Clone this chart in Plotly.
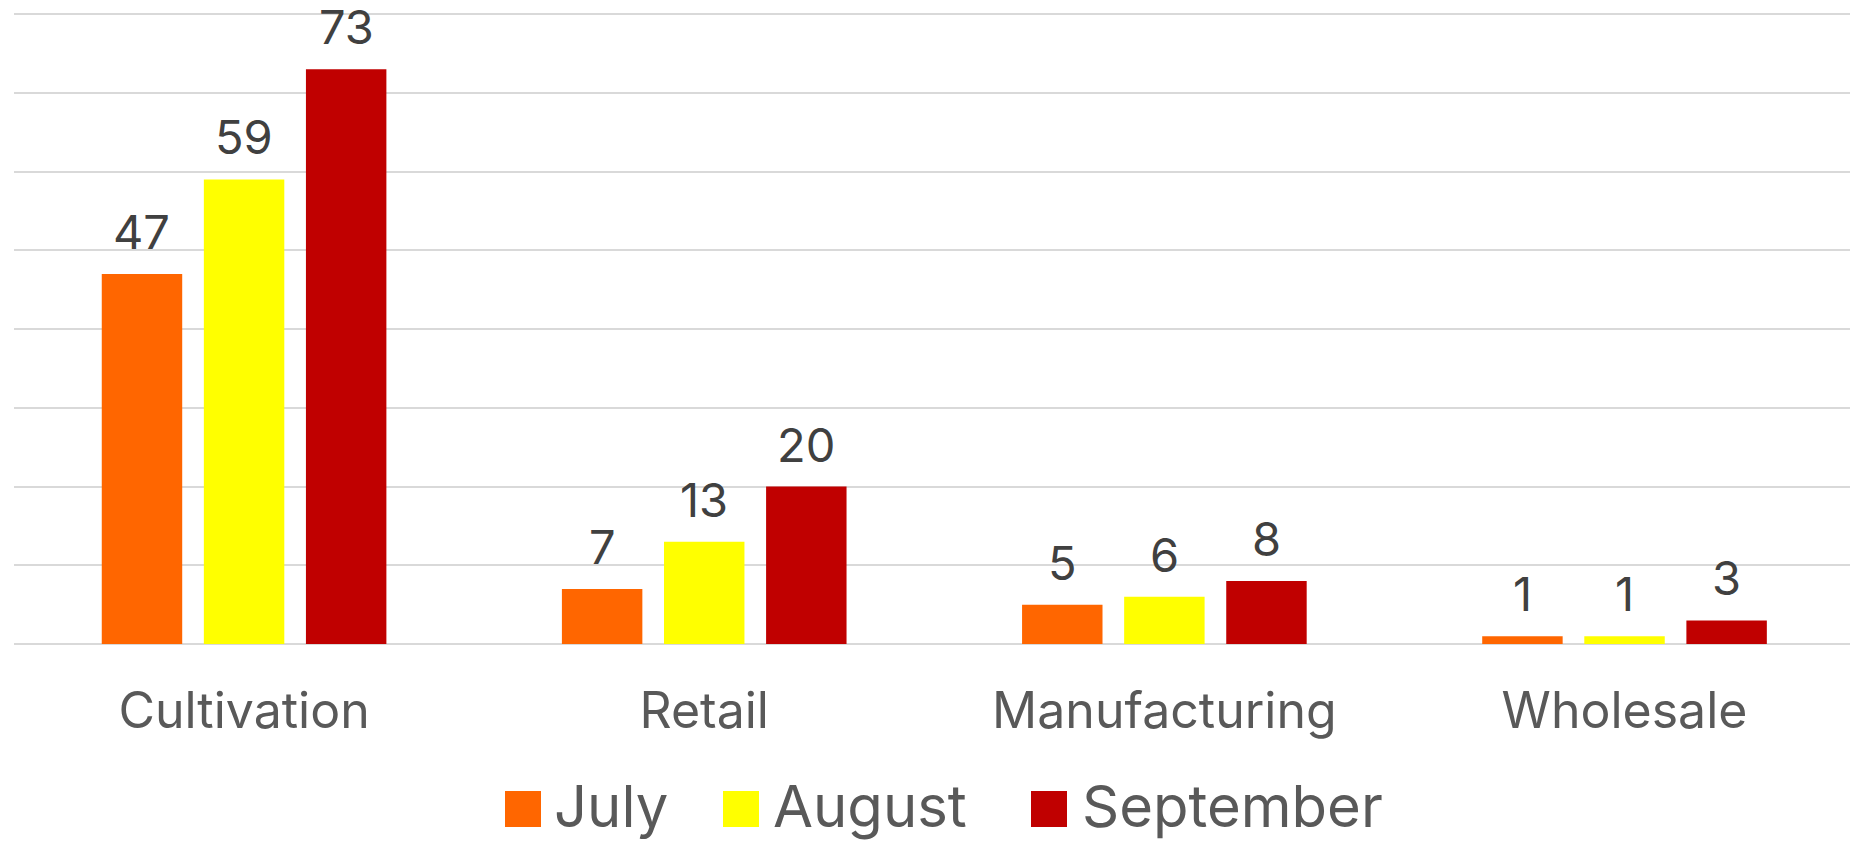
import plotly.graph_objects as go

categories = ["Cultivation", "Retail", "Manufacturing", "Wholesale"]
series_names = ["July", "August", "September"]
july = [47, 7, 5, 1]
august = [59, 13, 6, 1]
september = [73, 20, 8, 3]
series_values = [july, august, september]
colors = ["#FF6600", "#FFFF00", "#C00000"]
y_ticks = [0, 10, 20, 30, 40, 50, 60, 70, 80]

W, H = 1850, 842
ML, MR, MT, MB = 14, 0, 12, 198
FONT = "Inter"

BARGAP = 0.3344
GROUPGAP = 0.212
XR = [-0.5, 3.49]
YR = [0, 80.254]

fig = go.Figure()
for name, vals, col in zip(series_names, series_values, colors):
    fig.add_trace(go.Bar(x=categories, y=vals, name=name, marker=dict(color=col, line=dict(width=0)),
                         showlegend=False, hoverinfo="skip"))

slot = (1 - BARGAP) / len(series_names)
annotations = []
for k, vals in enumerate(series_values):
    off = (k - (len(series_names) - 1) / 2) * slot
    for i, v in enumerate(vals):
        annotations.append(dict(x=i + off, y=v, xref="x", yref="y", text=str(v), showarrow=False,
                                yanchor="bottom", yshift=13, borderpad=0,
                                font=dict(family=FONT, size=47, color="#404040")))

pw = W - ML - MR
ph = H - MT - MB
def px_x(px):
    return (px - ML) / pw
def px_y(py):
    return (H - MB - py) / ph

# custom legend (large squares)
leg_sq_left = [505, 723, 1031]
leg_txt_left = [552, 771, 1080]
sq = 36
sq_top = 791
shapes = []
for name, col, sl, tl in zip(series_names, colors, leg_sq_left, leg_txt_left):
    shapes.append(dict(type="rect", xref="paper", yref="paper", x0=px_x(sl), x1=px_x(sl + sq),
                       y0=px_y(sq_top + sq), y1=px_y(sq_top), fillcolor=col, line=dict(width=0)))
    annotations.append(dict(x=px_x(tl), y=px_y(sq_top + sq / 2 - 3), xref="paper", yref="paper",
                            text=name, showarrow=False, xanchor="left", yanchor="middle",
                            font=dict(family=FONT, size=58, color="#595959")))

fig.update_layout(
    width=W, height=H,
    margin=dict(l=ML, r=MR, t=MT, b=MB),
    paper_bgcolor="white", plot_bgcolor="white",
    barmode="group", bargap=BARGAP, bargroupgap=GROUPGAP,
    font=dict(family=FONT, color="#595959"),
    xaxis=dict(range=XR, showgrid=False, zeroline=False, showline=False, ticks="",
               tickfont=dict(family=FONT, size=50, color="#595959"), ticklabelstandoff=33),
    yaxis=dict(range=YR, tickvals=y_ticks, showticklabels=False, showgrid=True,
               gridcolor="#D9D9D9", gridwidth=2, zeroline=True, zerolinecolor="#D9D9D9",
               zerolinewidth=2, showline=False),
    shapes=shapes,
    annotations=annotations,
)

fig.write_html("out.html", config={"displayModeBar": False},
               post_script="document.body.style.margin='0px';")
